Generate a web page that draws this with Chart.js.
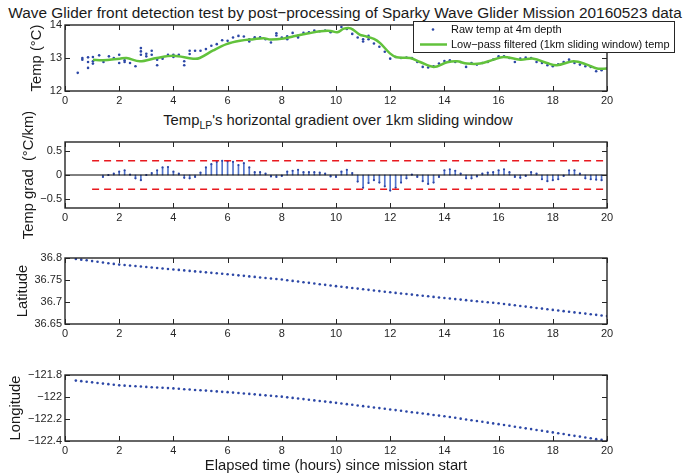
<!DOCTYPE html>
<html>
<head>
    <title>Wave Glider front detection test</title>
    <script src="https://cdn.jsdelivr.net/npm/chart.js"></script>
    <style>
        body { margin: 0; width: 694px; height: 476px; overflow: hidden; background: #fff; position: relative;
               font-family: "Liberation Sans", Arial, Helvetica, sans-serif; color: #1a1a1a; }
        canvas { position: absolute; left: 0; }
        .titulo { position: absolute; transform: translateX(-50%); white-space: nowrap; line-height: 17px; }
        .titulo sub { font-size: 10.5px; vertical-align: -4px; line-height: 0; }
    </style>
</head>
<body>
    <div class="titulo" style="top: 4px; left: 345px; font-size: 15.4px;">Wave Glider front detection test by post&minus;processing of Sparky Wave Glider Mission 20160523 data</div>
    <div class="titulo" style="top: 112px; left: 338px; font-size: 14.8px;">Temp<sub>LP</sub>'s horizontal gradient over 1km sliding window</div>

    <canvas id="cTemp" width="694" height="136" style="top: -5px;"></canvas>
    <canvas id="cGrad" width="694" height="136" style="top: 112px;"></canvas>
    <canvas id="cLat" width="694" height="136" style="top: 228px;"></canvas>
    <canvas id="cLon" width="694" height="161" style="top: 345px;"></canvas>

    <script>
        // ---- data ----
        var hourTicks = [0, 2, 4, 6, 8, 10, 12, 14, 16, 18, 20];
        var tempTicks = [12, 13, 14];
        var gradTicks = [-0.5, 0, 0.5];
        var latTicks = [36.65, 36.7, 36.75, 36.8];
        var lonTicks = [-122.4, -122.2, -122, -121.8];

        // raw temperature samples (several samples per fix)
        var rawHours = [0.47, 0.64, 0.64, 0.85, 0.85, 0.85, 1.03, 1.03, 1.03, 1.26, 1.42, 1.62, 1.8,
            2.0, 2.0, 2.2, 2.2, 2.4, 2.6, 2.8, 2.8, 2.8, 3.0, 3.0, 3.2, 3.2, 3.4, 3.4, 3.6, 3.8,
            4.0, 4.0, 4.2, 4.4, 4.4, 4.6, 4.6, 4.8, 5.0, 5.2, 5.4, 5.6, 5.8,
            6.0, 6.2, 6.4, 6.6, 6.8, 6.8, 7.0, 7.2, 7.4, 7.6, 7.8, 7.8,
            8.0, 8.2, 8.2, 8.4, 8.6, 8.6, 8.8, 9.0, 9.2, 9.4, 9.6, 9.8,
            10.2, 10.4, 10.6, 10.8, 11.0, 11.0, 11.2, 11.2, 11.4, 11.6, 11.8,
            12.0, 12.2, 12.4, 12.6, 12.8, 13.0, 13.2, 13.4, 13.6, 13.8,
            14.0, 14.2, 14.4, 14.6, 14.8, 15.0, 15.2, 15.4, 15.6, 15.8,
            16.0, 16.2, 16.4, 16.6, 16.8, 17.0, 17.2, 17.4, 17.6, 17.8,
            18.0, 18.2, 18.4, 18.6, 18.8, 19.0, 19.2, 19.4, 19.6, 19.8, 20.0];
        var rawTemp = [12.55, 13.0, 12.95, 13.02, 12.88, 12.7, 13.03, 12.9, 12.83, 13.08, 12.88, 13.05, 13.0,
            13.1, 12.85, 12.93, 12.88, 12.85, 12.75, 13.3, 13.2, 13.1, 13.13, 13.05, 13.22, 13.1, 12.95, 12.78, 12.98, 13.1,
            13.1, 13.03, 13.1, 12.9, 12.78, 13.22, 13.12, 13.22, 13.22, 13.27, 13.37, 13.42, 13.54,
            13.52, 13.62, 13.67, 13.65, 13.57, 13.5, 13.63, 13.63, 13.57, 13.47, 13.75, 13.68,
            13.62, 13.66, 13.57, 13.76, 13.67, 13.62, 13.76, 13.78, 13.83, 13.81, 13.83, 13.78,
            13.94, 13.88, 13.73, 13.62, 13.57, 13.5, 13.67, 13.57, 13.44, 13.34, 13.19,
            12.98, 13.03, 13.0, 13.01, 13.0, 12.88, 12.73, 12.71, 12.75, 12.83,
            12.91, 12.93, 12.88, 12.88, 12.73, 12.85, 12.8, 12.85, 12.88, 12.95,
            13.05, 13.05, 13.0, 12.88, 12.98, 13.01, 13.0, 12.88, 12.85, 12.78,
            12.75, 12.81, 12.88, 12.95, 12.85, 12.8, 12.75, 12.73, 12.6, 12.63, 12.68];

        // low-pass filtered temperature
        var lpHours = [1.03, 1.4, 2.02, 2.27, 2.76, 3.38, 4.0, 4.73, 4.97, 5.47, 5.96, 6.46, 6.96, 7.33, 7.58,
            8.07, 8.44, 8.94, 9.43, 9.8, 10.05, 10.29, 10.54, 10.89, 11.04, 11.4, 11.63, 11.99, 12.24, 12.73,
            13.1, 13.6, 14.1, 14.46, 14.83, 15.32, 15.81, 16.18, 16.8, 17.29, 17.78, 18.15, 18.77, 19.26, 19.63, 20.0];
        var lpTemp = [12.95, 12.93, 12.98, 13.0, 12.9, 13.0, 13.07, 12.98, 13.0, 13.23, 13.42, 13.52, 13.57, 13.6, 13.56,
            13.59, 13.66, 13.74, 13.81, 13.82, 13.78, 13.89, 13.9, 13.7, 13.67, 13.58, 13.45, 13.14, 13.02, 13.0,
            12.88, 12.73, 12.87, 12.9, 12.83, 12.83, 12.95, 13.03, 12.95, 12.98, 12.85, 12.78, 12.9, 12.8, 12.68, 12.68];

        // horizontal gradient of the filtered temperature (stems)
        var gradHours = [1.4, 1.6, 1.8, 2.0, 2.2, 2.4, 2.6, 2.8, 3.0, 3.2, 3.4, 3.6, 3.8, 4.0, 4.2, 4.4, 4.6, 4.8,
            5.0, 5.2, 5.4, 5.6, 5.8, 6.0, 6.2, 6.4, 6.6, 6.8, 7.0, 7.2, 7.4, 7.6, 7.8, 8.0, 8.2, 8.4, 8.6, 8.8,
            9.0, 9.2, 9.4, 9.6, 9.8, 10.0, 10.2, 10.4, 10.6, 10.8, 11.0, 11.2, 11.4, 11.6, 11.8,
            12.0, 12.2, 12.4, 12.6, 12.8, 13.0, 13.2, 13.4, 13.6, 13.8, 14.0, 14.2, 14.4, 14.6, 14.8,
            15.0, 15.2, 15.4, 15.6, 15.8, 16.0, 16.2, 16.4, 16.6, 16.8, 17.0, 17.2, 17.4, 17.6, 17.8,
            18.0, 18.2, 18.4, 18.6, 18.8, 19.0, 19.2, 19.4, 19.6, 19.8];
        var gradValues = [-0.04, 0.0, 0.03, 0.07, 0.10, 0.01, -0.07, -0.11, 0.0, 0.04, 0.10, 0.16, 0.17, 0.07, 0.03, -0.06, -0.07, -0.04,
            0.05, 0.16, 0.23, 0.28, 0.30, 0.29, 0.28, 0.21, 0.25, 0.16, 0.06, 0.06, 0.03, -0.03, -0.04, -0.02, 0.07, 0.09, 0.11, 0.06,
            0.06, 0.06, 0.05, 0.03, -0.03, -0.04, 0.07, 0.11, 0.04, -0.14, -0.27, -0.17, -0.11, -0.16, -0.24,
            -0.33, -0.27, -0.16, -0.07, 0.01, -0.04, -0.13, -0.19, -0.16, -0.04, 0.10, 0.12, 0.09, 0.03, -0.07,
            -0.07, -0.03, 0.03, 0.05, 0.06, 0.10, 0.12, 0.06, -0.04, -0.06, -0.02, 0.06, 0.03, -0.09, -0.13,
            -0.11, -0.09, -0.02, 0.10, 0.10, 0.03, -0.07, -0.09, -0.10, -0.11];
        var gradThreshold = 0.3;
        var thresholdStart = 1;

        // glider track
        var trackHours = [0.4, 0.6, 0.8, 1.0, 1.2, 1.4, 1.6, 1.8, 2.0, 2.2, 2.4, 2.6, 2.8, 3.0, 3.2, 3.4, 3.6, 3.8,
            4.0, 4.2, 4.4, 4.6, 4.8, 5.0, 5.2, 5.4, 5.6, 5.8, 6.0, 6.2, 6.4, 6.6, 6.8, 7.0, 7.2, 7.4, 7.6, 7.8,
            8.0, 8.2, 8.4, 8.6, 8.8, 9.0, 9.2, 9.4, 9.6, 9.8, 10.0, 10.2, 10.4, 10.6, 10.8, 11.0, 11.2, 11.4, 11.6, 11.8,
            12.0, 12.2, 12.4, 12.6, 12.8, 13.0, 13.2, 13.4, 13.6, 13.8, 14.0, 14.2, 14.4, 14.6, 14.8, 15.0, 15.2, 15.4, 15.6, 15.8,
            16.0, 16.2, 16.4, 16.6, 16.8, 17.0, 17.2, 17.4, 17.6, 17.8, 18.0, 18.2, 18.4, 18.6, 18.8, 19.0, 19.2, 19.4, 19.6, 19.8, 20.0];
        var latitude = [36.798, 36.7962, 36.7948, 36.793, 36.7915, 36.7898, 36.7882, 36.7866, 36.785, 36.784, 36.7828, 36.7818, 36.7806, 36.7795, 36.7784, 36.7773, 36.7762, 36.7751,
            36.774, 36.7729, 36.7718, 36.7707, 36.7696, 36.7685, 36.7674, 36.7663, 36.7652, 36.7641, 36.763, 36.7618, 36.7606, 36.7594, 36.7582, 36.757, 36.7558, 36.7546, 36.7534, 36.7522,
            36.751, 36.7495, 36.748, 36.7465, 36.745, 36.7435, 36.742, 36.7405, 36.739, 36.7375, 36.736, 36.7346, 36.7332, 36.7318, 36.7304, 36.729, 36.7276, 36.7262, 36.7248, 36.7234,
            36.722, 36.7207, 36.7194, 36.7181, 36.7168, 36.7155, 36.7142, 36.7129, 36.7116, 36.7103, 36.709, 36.7078, 36.7066, 36.7054, 36.7042, 36.703, 36.7018, 36.7006, 36.6994, 36.6982,
            36.697, 36.6955, 36.694, 36.6925, 36.691, 36.6895, 36.688, 36.6865, 36.685, 36.6835, 36.682, 36.6806, 36.6792, 36.6778, 36.6764, 36.675, 36.6736, 36.6722, 36.6708, 36.6694, 36.668];
        var longitude = [-121.851, -121.856, -121.862, -121.867, -121.873, -121.878, -121.883, -121.889, -121.894, -121.897, -121.900, -121.902, -121.905, -121.908, -121.911, -121.914, -121.916, -121.919,
            -121.922, -121.925, -121.929, -121.932, -121.936, -121.939, -121.942, -121.946, -121.949, -121.953, -121.956, -121.960, -121.964, -121.968, -121.972, -121.976, -121.981, -121.985, -121.989, -121.993,
            -121.997, -122.003, -122.008, -122.014, -122.019, -122.025, -122.031, -122.036, -122.042, -122.047, -122.053, -122.059, -122.065, -122.071, -122.077, -122.083, -122.089, -122.095, -122.101, -122.107,
            -122.113, -122.119, -122.125, -122.132, -122.138, -122.144, -122.150, -122.156, -122.163, -122.169, -122.175, -122.182, -122.189, -122.197, -122.204, -122.211, -122.218, -122.225, -122.233, -122.240,
            -122.247, -122.255, -122.262, -122.270, -122.277, -122.285, -122.292, -122.300, -122.307, -122.315, -122.322, -122.330, -122.337, -122.345, -122.353, -122.360, -122.368, -122.375, -122.383, -122.390, -122.398];

        // ---- styling ----
        var inkColor = '#262626';
        var dotBlue = '#2c47a6';
        var stemBlue = '#5274cc';
        var lpGreen = '#62c23c';
        var fontFamily = '"Liberation Sans", Arial, Helvetica, sans-serif';
        var tickFont = { family: fontFamily, size: 11 };
        var labelFont = { family: fontFamily, size: 14.8 };

        function pairs(xs, ys) {
            return xs.map(function (x, i) { return { x: x, y: ys[i] }; });
        }

        function fmt(v) {
            return String(v).replace('-', '\u2212');
        }

        // MATLAB style box with inward ticks on all four sides
        var boxPlugin = {
            id: 'boxPlugin',
            afterDatasetsDraw: function (chart) {
                var ctx = chart.ctx, a = chart.chartArea;
                var xs = chart.scales.x, ys = chart.scales.y;
                ctx.save();
                ctx.strokeStyle = inkColor;
                ctx.lineWidth = 1;
                ctx.beginPath();
                xs.ticks.forEach(function (t) {
                    var px = Math.round(xs.getPixelForValue(t.value)) + 0.5;
                    ctx.moveTo(px, a.bottom); ctx.lineTo(px, a.bottom - 5);
                    ctx.moveTo(px, a.top); ctx.lineTo(px, a.top + 5);
                });
                ys.ticks.forEach(function (t) {
                    var py = Math.round(ys.getPixelForValue(t.value)) + 0.5;
                    ctx.moveTo(a.left, py); ctx.lineTo(a.left + 5, py);
                    ctx.moveTo(a.right, py); ctx.lineTo(a.right - 5, py);
                });
                ctx.stroke();
                ctx.lineWidth = 1.4;
                ctx.strokeRect(a.left, a.top, a.right - a.left, a.bottom - a.top);
                ctx.restore();
            }
        };

        // legend box of the first panel, drawn where MATLAB put it
        var legendPlugin = {
            id: 'legendPlugin',
            afterDraw: function (chart) {
                var opts = chart.options.plugins.legendPlugin;
                if (!opts || !opts.show) return;
                var ctx = chart.ctx, a = chart.chartArea;
                var sets = chart.data.datasets;
                var x0 = a.right - 194, y0 = a.top - 4, w = 261, h = 31;
                ctx.save();
                ctx.fillStyle = '#fff';
                ctx.fillRect(x0, y0, w, h);
                ctx.strokeStyle = inkColor;
                ctx.lineWidth = 1;
                ctx.strokeRect(x0 + 0.5, y0 + 0.5, w, h);
                ctx.font = '11px ' + fontFamily;
                ctx.textBaseline = 'middle';
                ctx.fillStyle = '#111';
                // raw samples
                ctx.fillText(sets[1].label, x0 + 38, y0 + 8.5);
                ctx.fillStyle = dotBlue;
                ctx.beginPath();
                ctx.arc(x0 + 20, y0 + 8.5, 1.3, 0, Math.PI * 2);
                ctx.fill();
                // filtered line
                ctx.fillStyle = '#111';
                ctx.fillText(sets[0].label, x0 + 38, y0 + 23.5);
                ctx.strokeStyle = lpGreen;
                ctx.lineWidth = 2.5;
                ctx.beginPath();
                ctx.moveTo(x0 + 7, y0 + 23.5);
                ctx.lineTo(x0 + 34, y0 + 23.5);
                ctx.stroke();
                ctx.restore();
            }
        };

        function panelOptions(yMin, yMax, yTicks, yTitle, yTitlePad, xHeight, xTitle) {
            return {
                responsive: false,
                animation: false,
                events: [],
                layout: { padding: { top: 30, right: 87, bottom: 20, left: 0 } },
                plugins: { legend: { display: false }, tooltip: { enabled: false } },
                scales: {
                    x: {
                        type: 'linear', min: 0, max: 20, offset: false,
                        afterBuildTicks: function (ax) { ax.ticks = hourTicks.map(function (v) { return { value: v }; }); },
                        afterFit: function (ax) { ax.height = xHeight; },
                        grid: { display: false, drawTicks: false },
                        border: { display: false },
                        ticks: { color: inkColor, font: tickFont, padding: 3, maxRotation: 0, autoSkip: false, callback: fmt },
                        title: {
                            display: !!xTitle, text: xTitle || '', color: '#1a1a1a', font: labelFont,
                            padding: { top: 0, bottom: 11 }
                        }
                    },
                    y: {
                        type: 'linear', min: yMin, max: yMax,
                        afterBuildTicks: function (ax) { ax.ticks = yTicks.map(function (v) { return { value: v }; }); },
                        afterFit: function (ax) { ax.width = 65; },
                        grid: { display: false, drawTicks: false },
                        border: { display: false },
                        ticks: { color: inkColor, font: tickFont, padding: 3, autoSkip: false, callback: fmt },
                        title: {
                            display: true, text: yTitle, color: '#1a1a1a', font: labelFont,
                            padding: { top: yTitlePad, bottom: 0 }
                        }
                    }
                }
            };
        }

        // ---- panel 1: temperature ----
        var opt1 = panelOptions(12, 14, tempTicks, 'Temp (\u00B0C)', 28, 20);
        opt1.plugins.legendPlugin = { show: true };
        new Chart(document.getElementById('cTemp'), {
            type: 'scatter',
            data: {
                datasets: [{
                    type: 'line',
                    label: 'Low\u2212pass filtered (1km sliding window) temp',
                    data: pairs(lpHours, lpTemp),
                    borderColor: lpGreen,
                    borderWidth: 2.5,
                    pointRadius: 0,
                    tension: 0.35,
                    fill: false,
                    order: 0
                }, {
                    label: 'Raw temp at 4m depth',
                    data: pairs(rawHours, rawTemp),
                    backgroundColor: dotBlue,
                    borderWidth: 0,
                    pointRadius: 1.3,
                    order: 1
                }]
            },
            options: opt1,
            plugins: [boxPlugin, legendPlugin]
        });

        // ---- panel 2: gradient stems ----
        new Chart(document.getElementById('cGrad'), {
            type: 'bar',
            data: {
                datasets: [{
                    type: 'line',
                    data: [{ x: 0, y: 0 }, { x: 20, y: 0 }],
                    borderColor: '#000', borderWidth: 1, pointRadius: 0, order: 0
                }, {
                    type: 'line',
                    data: [{ x: thresholdStart, y: gradThreshold }, { x: 20, y: gradThreshold }],
                    borderColor: '#e8191f', borderWidth: 1.5, borderDash: [7, 5], pointRadius: 0, order: 1
                }, {
                    type: 'line',
                    data: [{ x: thresholdStart, y: -gradThreshold }, { x: 20, y: -gradThreshold }],
                    borderColor: '#e8191f', borderWidth: 1.5, borderDash: [7, 5], pointRadius: 0, order: 1
                }, {
                    type: 'scatter',
                    data: pairs(gradHours, gradValues),
                    backgroundColor: dotBlue, borderWidth: 0, pointRadius: 1.1, order: 2
                }, {
                    type: 'bar',
                    data: pairs(gradHours, gradValues),
                    backgroundColor: stemBlue, barThickness: 1, order: 3
                }]
            },
            options: panelOptions(-0.7, 0.7, gradTicks, 'Temp grad  (\u00B0C/km)', 20, 20),
            plugins: [boxPlugin]
        });

        // ---- panel 3: latitude ----
        new Chart(document.getElementById('cLat'), {
            type: 'scatter',
            data: {
                datasets: [{
                    data: pairs(trackHours, latitude),
                    backgroundColor: dotBlue, borderWidth: 0, pointRadius: 1.3
                }]
            },
            options: panelOptions(36.65, 36.8, latTicks, 'Latitude', 14, 20),
            plugins: [boxPlugin]
        });

        // ---- panel 4: longitude ----
        new Chart(document.getElementById('cLon'), {
            type: 'scatter',
            data: {
                datasets: [{
                    data: pairs(trackHours, longitude),
                    backgroundColor: dotBlue, borderWidth: 0, pointRadius: 1.3
                }]
            },
            options: panelOptions(-122.4, -121.8, lonTicks, 'Longitude', 7, 45, 'Elapsed time (hours) since mission start'),
            plugins: [boxPlugin]
        });
    </script>
</body>
</html>
